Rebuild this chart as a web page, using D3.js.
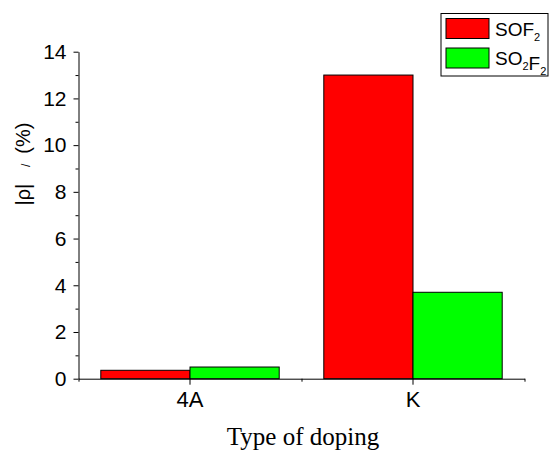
<!DOCTYPE html>
<html>
<head>
<meta charset="utf-8">
<script src="https://d3js.org/d3.v7.min.js"></script>
<style>
  body { margin: 0; background: #fff; }
  text { font-family: Arial, "Liberation Sans", sans-serif; }
</style>
</head>
<body>
<svg id="chart" width="549" height="450"></svg>
<script>
    // data
    var dopings = ['4A', 'K'];
    var gases = ['SOF2', 'SO2F2'];
    var sof2 = [0.36, 13.0];
    var so2f2 = [0.5, 3.7];
    var colors = ['#ff0000', '#00ff00'];
    var yTicks = [0, 2, 4, 6, 8, 10, 12, 14];

    var svg = d3.select('#chart');
    var plotL = 78.5, plotR = 524.5, plotT = 51.7, plotB = 378.7;

    var x = d3.scaleBand().domain(dopings).range([plotL, plotR]).padding(0);
    var sub = d3.scaleBand().domain(gases).range([0, x.bandwidth()]).paddingOuter(0.25).paddingInner(0);
    var y = d3.scaleLinear().domain([0, 14]).range([plotB, plotT]);

    var rows = dopings.map(function(d, i) {
        return { doping: d, vals: [sof2[i], so2f2[i]] };
    });

    // bars
    var groups = svg.selectAll('g.grp')
        .data(rows)
        .enter()
        .append('g')
        .attr('class', 'grp')
        .attr('transform', function(d) { return 'translate(' + x(d.doping) + ',0)'; });

    groups.selectAll('rect')
        .data(function(d) { return d.vals.map(function(v, j) { return { g: gases[j], v: v, c: colors[j] }; }); })
        .enter()
        .append('rect')
        .attr('x', function(d) { return sub(d.g); })
        .attr('width', sub.bandwidth())
        .attr('y', function(d) { return y(d.v); })
        .attr('height', function(d) { return y(0) - y(d.v); })
        .attr('fill', function(d) { return d.c; })
        .attr('stroke', '#000')
        .attr('stroke-width', 1);

    // y axis, major + minor ticks
    var yAxis = svg.append('g')
        .attr('transform', 'translate(' + plotL + ',0)')
        .call(d3.axisLeft(y).tickValues(yTicks).tickSize(5).tickPadding(7).tickSizeOuter(0));
    svg.append('g')
        .attr('transform', 'translate(' + plotL + ',0)')
        .call(d3.axisLeft(y).tickValues(d3.range(1, 14, 2)).tickSize(3).tickFormat('').tickSizeOuter(0))
        .select('.domain').remove();
    yAxis.selectAll('text').style('font-size', '21px').attr('fill', '#000');

    // x axis
    var xAxis = svg.append('g')
        .attr('transform', 'translate(0,' + plotB + ')')
        .call(d3.axisBottom(x).tickSize(6).tickPadding(7).tickSizeOuter(0));
    xAxis.selectAll('text').style('font-size', '22px').attr('fill', '#000');
    var edges = dopings.map(function(d) { return x(d); }).concat([plotR]);
    svg.append('g')
        .attr('transform', 'translate(0,' + plotB + ')')
        .call(d3.axisBottom(d3.scaleLinear().domain([plotL, plotR]).range([plotL, plotR])).tickValues(edges).tickSize(3).tickFormat('').tickSizeOuter(0))
        .select('.domain').remove();

    svg.selectAll('.domain, .tick line').attr('stroke', '#000');

    // axis titles
    svg.append('text')
        .attr('x', 303)
        .attr('y', 445)
        .attr('text-anchor', 'middle')
        .style('font-family', '"Times New Roman", "Liberation Serif", serif')
        .style('font-size', '25px')
        .text('Type of doping');

    var yl = svg.append('text')
        .attr('transform', 'translate(30,164) rotate(-90)')
        .attr('text-anchor', 'middle')
        .style('font-size', '20px');
    yl.append('tspan').text('|ρ|');
    yl.append('tspan').style('font-size', '12px').attr('xml:space', 'preserve').text('     /   ');
    yl.append('tspan').text('(%)');
    yl.attr('xml:space', 'preserve').style('white-space', 'pre');

    // legend
    var lg = svg.append('g');
    lg.append('rect')
        .attr('x', 441).attr('y', 13.5).attr('width', 107).attr('height', 62.5)
        .attr('fill', '#fff').attr('stroke', '#000');
    var lrows = [
        [{ t: 'SO', s: 0 }, { t: 'F', s: 0 }, { t: '2', s: 1 }],
        [{ t: 'SO', s: 0 }, { t: '2', s: 1 }, { t: 'F', s: 0 }, { t: '2', s: 1 }]
    ];
    lrows.forEach(function(parts, i) {
        var yy = 18.5 + i * 29.5;
        lg.append('rect')
            .attr('x', 446).attr('y', yy).attr('width', 43).attr('height', 20)
            .attr('fill', colors[i]).attr('stroke', '#000');
        var t = lg.append('text')
            .attr('x', 495).attr('y', yy + 17)
            .style('font-size', '19px');
        parts.forEach(function(p) {
            t.append('tspan')
                .style('font-size', p.s ? '11px' : '19px')
                .attr('dy', p.s ? 5 : 0)
                .text(p.t);
            if (p.s) t.append('tspan').attr('dy', -5).text('');
        });
    });
</script>
</body>
</html>
